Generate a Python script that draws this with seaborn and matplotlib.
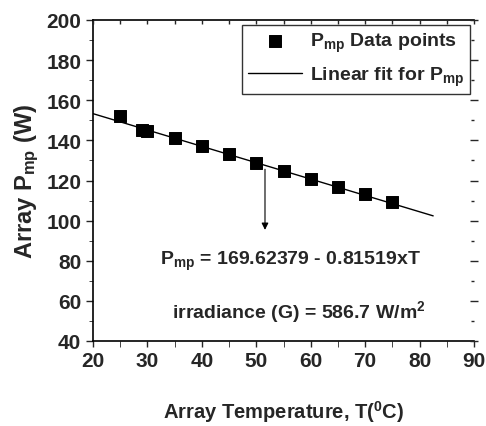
import numpy as np
import pandas as pd
import matplotlib
matplotlib.use('Agg')
import matplotlib.pyplot as plt
import seaborn as sns
from matplotlib.ticker import MultipleLocator

# Data
temperature = [25, 29, 30, 35, 40, 45, 50, 55, 60, 65, 70, 75]
pmp = [152.0, 145.3, 144.8, 141.0, 137.2, 133.2, 128.9, 124.6, 120.8, 116.9, 113.3, 109.4]

# Linear fit coefficients given on the chart
intercept = 169.62379
slope = -0.81519
fit_range = [20, 82.5]

sns.set_style('ticks')
plt.rcParams['font.family'] = ['Liberation Sans', 'DejaVu Sans']
plt.rcParams['font.weight'] = 'bold'
plt.rcParams['mathtext.fontset'] = 'custom'
plt.rcParams['mathtext.rm'] = 'Liberation Sans:bold'
plt.rcParams['mathtext.bf'] = 'Liberation Sans:bold'
plt.rcParams['mathtext.it'] = 'Liberation Sans:bold'

df = pd.DataFrame({'T': temperature, 'P': pmp})
fit_df = pd.DataFrame({'T': fit_range, 'P': [intercept + slope * t for t in fit_range]})

fig = plt.figure(figsize=(4.86, 4.27), dpi=100)
ax = fig.add_axes([93 / 486, 1 - 342 / 427, 381 / 486, 321 / 427])

sns.scatterplot(data=df, x='T', y='P', marker='s', s=75, color='black',
                edgecolor='black', ax=ax, label=r'P$_{\mathrm{mp}}$ Data points', zorder=3)
sns.lineplot(data=fit_df, x='T', y='P', color='black', linewidth=1, ax=ax,
             label=r'Linear fit for P$_{\mathrm{mp}}$')

ax.set_xlim(20, 90)
ax.set_ylim(40, 200)
ax.xaxis.set_major_locator(MultipleLocator(10))
ax.xaxis.set_minor_locator(MultipleLocator(5))
ax.yaxis.set_major_locator(MultipleLocator(20))
ax.yaxis.set_minor_locator(MultipleLocator(10))
ax.tick_params(axis='both', which='major', labelsize=15, width=1)
ax.tick_params(axis='x', which='both', length=4, direction='out')
ax.tick_params(axis='y', which='major', length=5, direction='out')
ax.tick_params(axis='y', which='minor', length=3, direction='out')
for lab in ax.get_xticklabels() + ax.get_yticklabels():
    lab.set_fontweight('bold')
for sp in ax.spines.values():
    sp.set_linewidth(1.2)
    sp.set_color('black')
ax.spines['right'].set_visible(False)

# Top axis: inward ticks, no labels
axt = ax.twiny()
axt.set_xlim(ax.get_xlim())
axt.xaxis.set_major_locator(MultipleLocator(10))
axt.xaxis.set_minor_locator(MultipleLocator(5))
axt.tick_params(axis='x', which='both', direction='in', length=3, width=1, labeltop=False)
# Right axis: short ticks across the edge, no labels
axr = ax.twinx()
axr.set_ylim(ax.get_ylim())
axr.yaxis.set_major_locator(MultipleLocator(20))
axr.yaxis.set_minor_locator(MultipleLocator(10))
axr.tick_params(axis='y', which='major', direction='inout', length=6, width=1, labelright=False)
axr.tick_params(axis='y', which='minor', direction='in', length=2, width=1)
for a in (axt, axr):
    for sp in a.spines.values():
        sp.set_visible(False)
    a.grid(False)

ax.set_xlabel(r'Array Temperature, T($^{\mathrm{0}}$C)', fontsize=14.5, fontweight='bold', labelpad=20)
ax.set_ylabel(r'Array P$_{\mathrm{mp}}$ (W)', fontsize=17, fontweight='bold', labelpad=4)

# Arrow from the fit line down to the equation
ax.annotate('', xy=(51.6, 94), xytext=(51.6, 127),
            arrowprops=dict(arrowstyle='-|>', color='black', lw=0.8, mutation_scale=10))
ax.text(56.2, 80, r'P$_{\mathrm{mp}}$ = 169.62379 - 0.81519xT', fontsize=14,
        fontweight='bold', va='center', ha='center')
ax.text(57.8, 55, r'irradiance (G) = 586.7 W/m$^{\mathrm{2}}$', fontsize=14,
        fontweight='bold', va='center', ha='center')

leg = ax.legend(loc='upper right', bbox_to_anchor=(0.99, 0.985), fontsize=14,
                frameon=True, fancybox=False, edgecolor='black', borderpad=0.3,
                handlelength=2.8, handletextpad=0.4, labelspacing=0.55, borderaxespad=0)
leg.get_frame().set_linewidth(1)
leg.set_zorder(5)
for t in leg.get_texts():
    t.set_fontweight('bold')

fig.savefig('out.png', dpi=100)
